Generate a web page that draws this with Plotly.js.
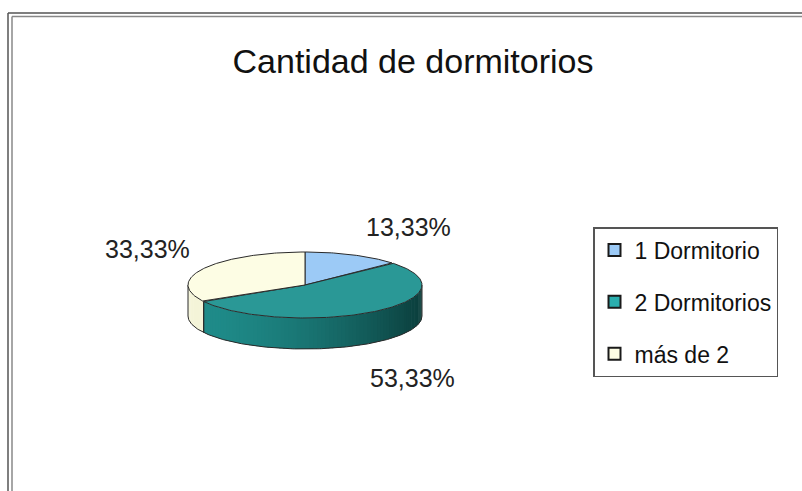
<!DOCTYPE html>
<html>
<head>
<meta charset="utf-8">
<script src="https://cdn.plot.ly/plotly-3.0.1.min.js"></script>
<style>html,body{margin:0;padding:0;background:#fff;}#chart{width:802px;height:491px;}</style>
</head>
<body>
<div id="chart"></div>
<script>
// ---- data ----
const categories = ['1 Dormitorio', '2 Dormitorios', 'más de 2'];
const values = [13.33, 53.33, 33.33];
const chartTitle = 'Cantidad de dormitorios';

// ---- styles ----
const topColors = ['#9ccaf6', '#2a9896', '#fdfde4'];
const legendColors = ['#9ccaf6', '#2aaeae', '#fdfde4'];
const sideLight = [[110, 150, 200], [31, 140, 138], [244, 244, 216]];
const sideDark = [[70, 100, 150], [11, 62, 60], [226, 226, 196]];
const outline = '#2a2a2a';
const FONT = 'Liberation Sans, Arial, sans-serif';

// geometry of the 3D pie in pixel-like data space
const cx = 305, cy = 285, rx = 117, ry = 33, depth = 31;
const labelShift = [[56, 28], [39, -66], [-56, 20]];

function pt(thetaDeg, dy) {
  const r = thetaDeg * Math.PI / 180;
  return [cx + rx * Math.sin(r), cy - ry * Math.cos(r) + (dy || 0)];
}
function arc(a0, a1, dy) {
  const xs = [], ys = [];
  const n = Math.max(2, Math.ceil(Math.abs(a1 - a0)));
  for (let k = 0; k <= n; k++) {
    const p = pt(a0 + (a1 - a0) * k / n, dy);
    xs.push(p[0]); ys.push(p[1]);
  }
  return [xs, ys];
}
function mix(c1, c2, t) {
  return 'rgb(' + c1.map((v, i) => Math.round(v + (c2[i] - v) * t)).join(',') + ')';
}

const total = values.reduce((a, b) => a + b, 0);
const starts = [], ends = [];
let acc = 0;
values.forEach(v => { starts.push(acc / total * 360); acc += v; ends.push(acc / total * 360); });

const traces = [];
// side walls (front half: 90..270 deg)
values.forEach((v, i) => {
  const a0 = Math.max(starts[i], 90), a1 = Math.min(ends[i], 270);
  if (a1 <= a0) return;
  const step = 2;
  for (let a = a0; a < a1; a += step) {
    const b = Math.min(a + step + 0.8, a1);
    const top = arc(a, b, 0), bot = arc(b, a, depth);
    const xm = pt((a + b) / 2)[0];
    const t = Math.pow((xm - (cx - rx)) / (2 * rx), 1.7);
    traces.push({
      type: 'scatter', mode: 'lines', x: top[0].concat(bot[0]), y: top[1].concat(bot[1]),
      fill: 'toself', fillcolor: mix(sideLight[i], sideDark[i], t),
      line: {width: 0}, showlegend: false, hoverinfo: 'skip'
    });
  }
});
// side outline: bottom arc + vertical edges
{
  const b = arc(90, 270, depth);
  traces.push({type: 'scatter', mode: 'lines', x: b[0], y: b[1], line: {color: outline, width: 1},
    showlegend: false, hoverinfo: 'skip'});
  const edges = [90, 270].concat(starts.concat(ends).filter(a => a > 90 && a < 270));
  edges.forEach(a => {
    const p = pt(a, 0), q = pt(a, depth);
    traces.push({type: 'scatter', mode: 'lines', x: [p[0], q[0]], y: [p[1], q[1]],
      line: {color: outline, width: 1}, showlegend: false, hoverinfo: 'skip'});
  });
}
// top slices
values.forEach((v, i) => {
  const a = arc(starts[i], ends[i], 0);
  traces.push({
    type: 'scatter', mode: 'lines', x: [cx].concat(a[0], [cx]), y: [cy].concat(a[1], [cy]),
    fill: 'toself', fillcolor: topColors[i], line: {color: outline, width: 1},
    showlegend: false, hoverinfo: 'skip'
  });
});
// legend entries
categories.forEach((c, i) => {
  traces.push({
    type: 'scatter', mode: 'markers', x: [null], y: [null], name: c, legendgroup: 'g' + i,
    marker: {symbol: 'square', size: 12, color: legendColors[i], line: {color: '#1a1a1a', width: 2}},
    hoverinfo: 'skip'
  });
});

// percentage labels
const annotations = values.map((v, i) => {
  const p = pt((starts[i] + ends[i]) / 2, 0);
  return {
    x: p[0], y: p[1], xref: 'x', yref: 'y', showarrow: false,
    text: v.toFixed(2).replace('.', ',') + '%',
    xshift: labelShift[i][0], yshift: labelShift[i][1],
    font: {family: FONT, size: 25, color: '#222'}
  };
});

const shapes = [
  {type: 'line', xref: 'x', yref: 'y', x0: 8, x1: 802, y0: 13, y1: 13, line: {color: '#555', width: 1.5}},
  {type: 'line', xref: 'x', yref: 'y', x0: 12, x1: 802, y0: 16.5, y1: 16.5, line: {color: '#888', width: 1.5}},
  {type: 'line', xref: 'x', yref: 'y', x0: 8, x1: 8, y0: 13, y1: 491, line: {color: '#555', width: 1.5}},
  {type: 'line', xref: 'x', yref: 'y', x0: 12, x1: 12, y0: 16.5, y1: 491, line: {color: '#888', width: 1.5}}
];

const layout = {
  width: 802, height: 491,
  margin: {l: 0, r: 0, t: 0, b: 0},
  paper_bgcolor: '#fff', plot_bgcolor: '#fff',
  title: {text: chartTitle, font: {family: FONT, size: 34, color: '#111'},
    x: 0.515, xanchor: 'center', y: 1 - 61 / 491, yanchor: 'middle', yref: 'container'},
  xaxis: {range: [0, 802], visible: false, fixedrange: true},
  yaxis: {range: [491, 0], visible: false, fixedrange: true},
  showlegend: true,
  legend: {
    x: 593 / 802, y: 1 - 227 / 491, xanchor: 'left', yanchor: 'top',
    bordercolor: '#555', borderwidth: 1.5, bgcolor: '#fff',
    font: {family: FONT, size: 23, color: '#111'},
    tracegroupgap: 19, itemwidth: 30
  },
  annotations: annotations,
  shapes: shapes
};

Plotly.newPlot('chart', traces, layout, {staticPlot: true, displayModeBar: false});
</script>
</body>
</html>
